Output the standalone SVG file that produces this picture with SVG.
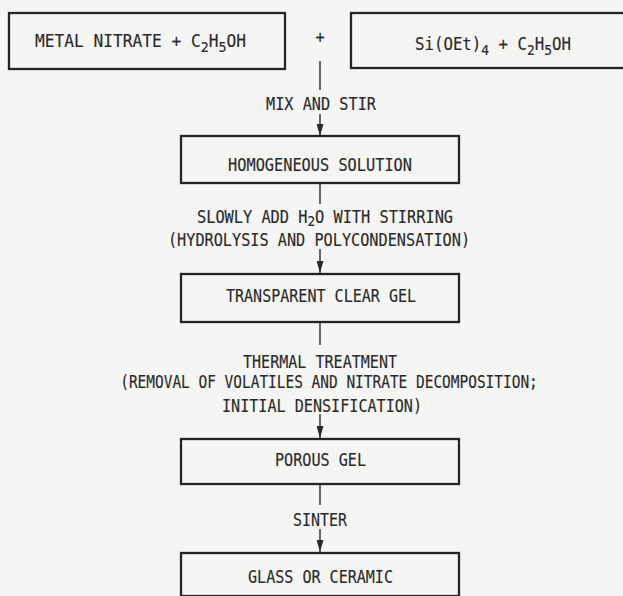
<svg xmlns="http://www.w3.org/2000/svg" width="623" height="596" viewBox="0 0 623 596">
<defs>
<style>
.bg{fill:#f5f5f3}
.box{fill:none;stroke:#252525;stroke-width:2.3}
.ln{fill:none;stroke:#2a2a2a;stroke-width:1.4}
text{font-family:"DejaVu Sans Mono","Liberation Mono",monospace;font-size:17px;fill:#2a2a2a;stroke:#2a2a2a;stroke-width:0.15}
.c{text-anchor:middle}
.sub{font-size:14px}
</style>
<marker id="ah" viewBox="0 0 12 7" refX="12" refY="3.5" markerWidth="12" markerHeight="7" markerUnits="userSpaceOnUse" orient="auto">
<path d="M0,0 L12,3.5 L0,7 z" fill="#2a2a2a"/>
</marker>
</defs>
<rect class="bg" x="0" y="0" width="623" height="596"/>
<g id="connectors">
<line class="ln" x1="320" y1="61" x2="320" y2="90"/>
<line class="ln" x1="320" y1="114" x2="320" y2="136" marker-end="url(#ah)"/>
<line class="ln" x1="320" y1="183" x2="320" y2="204"/>
<line class="ln" x1="320" y1="249" x2="320" y2="273" marker-end="url(#ah)"/>
<line class="ln" x1="320" y1="322" x2="320" y2="345"/>
<line class="ln" x1="320" y1="414" x2="320" y2="438" marker-end="url(#ah)"/>
<line class="ln" x1="320" y1="484" x2="320" y2="505"/>
<line class="ln" x1="320" y1="529" x2="320" y2="552" marker-end="url(#ah)"/>
</g>
<g id="labels">
<text class="c" transform="translate(320,43) scale(0.9,1)">+</text>
<text class="c" transform="translate(321,110) scale(0.896,1)">MIX AND STIR</text>
<text transform="translate(197,223) scale(0.9,1)">SLOWLY ADD H<tspan class="sub" dy="3">2</tspan><tspan dy="-3">O WITH STIRRING</tspan></text>
<text class="c" transform="translate(319,246) scale(0.895,1)">(HYDROLYSIS AND POLYCONDENSATION)</text>
<text class="c" transform="translate(320,368) scale(0.886,1)">THERMAL TREATMENT</text>
<text class="c" transform="translate(329,388) scale(0.851,1)">(REMOVAL OF VOLATILES AND NITRATE DECOMPOSITION;</text>
<text class="c" transform="translate(322,412) scale(0.889,1)">INITIAL DENSIFICATION)</text>
<text class="c" transform="translate(320,526) scale(0.88,1)">SINTER</text>
</g>
<g id="metal-nitrate">
<rect class="box" x="9" y="13" width="276" height="56"/>
<text transform="translate(35,47) scale(0.953,1)">METAL NITRATE + C<tspan class="sub" dy="5">2</tspan><tspan dy="-5">H</tspan><tspan class="sub" dy="5">5</tspan><tspan dy="-5">OH</tspan></text>
</g>
<g id="teos">
<rect class="box" x="351" y="13" width="290" height="55"/>
<text transform="translate(415,50) scale(0.926,1)">Si(OEt)<tspan class="sub" dy="5">4</tspan><tspan dy="-5"> + C</tspan><tspan class="sub" dy="5">2</tspan><tspan dy="-5">H</tspan><tspan class="sub" dy="5">5</tspan><tspan dy="-5">OH</tspan></text>
</g>
<g id="homogeneous">
<rect class="box" x="181" y="136" width="278" height="47"/>
<text class="c" transform="translate(320,171) scale(0.899,1)">HOMOGENEOUS SOLUTION</text>
</g>
<g id="clear-gel">
<rect class="box" x="181" y="274" width="278" height="48"/>
<text class="c" transform="translate(321,302) scale(0.885,1)">TRANSPARENT CLEAR GEL</text>
</g>
<g id="porous-gel">
<rect class="box" x="181" y="439" width="278" height="45"/>
<text class="c" transform="translate(320.5,466) scale(0.89,1)">POROUS GEL</text>
</g>
<g id="glass">
<rect class="box" x="181" y="553" width="278" height="43"/>
<text class="c" transform="translate(320.5,583) scale(0.886,1)">GLASS OR CERAMIC</text>
</g>
</svg>
